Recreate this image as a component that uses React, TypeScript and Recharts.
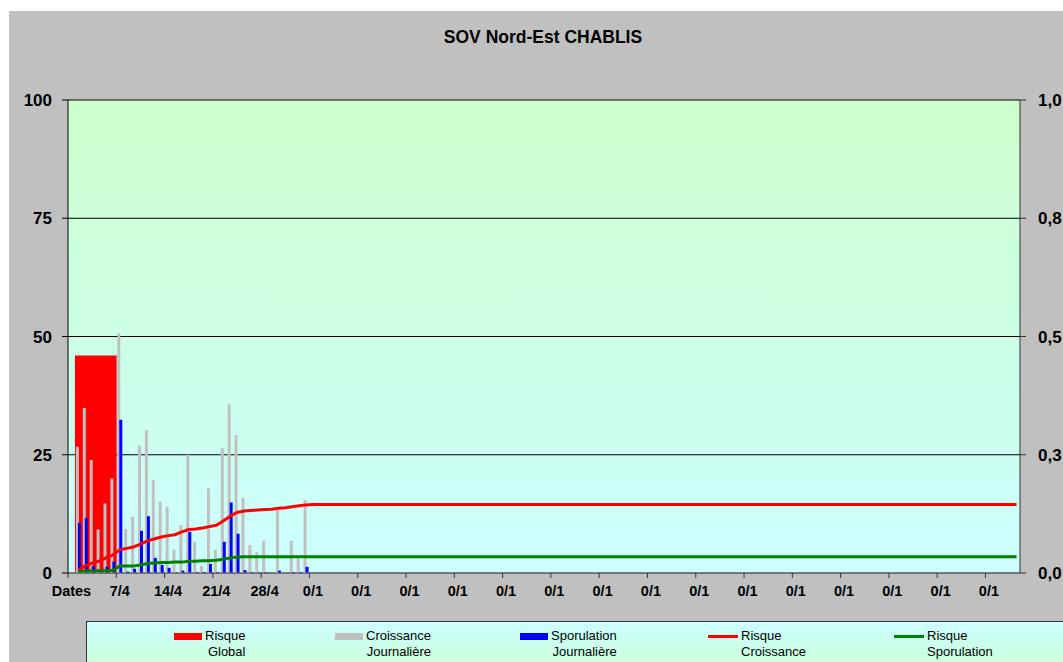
import React from "react";
import {
    Bar,
    CartesianGrid,
    ComposedChart,
    Line,
    ReferenceArea,
    XAxis,
    YAxis,
} from "recharts";

// one category per day, day 0 holds the "Dates" caption
const dayCount = 138;

const tickLabels = [
    "Dates", "7/4", "14/4", "21/4", "28/4",
    "0/1", "0/1", "0/1", "0/1", "0/1", "0/1", "0/1", "0/1",
    "0/1", "0/1", "0/1", "0/1", "0/1", "0/1", "0/1",
];

// daily values, from day 1 (1/4) on, left axis 0-100
const croissanceJour = [
    26.7, 34.9, 23.9, 9.2, 14.7, 20.0, 50.7, 9.3, 11.9, 26.9, 30.2, 19.7,
    15.1, 14.0, 4.9, 10.1, 25.0, 6.6, 1.5, 17.9, 4.9, 26.5, 35.7, 29.2,
    15.9, 5.9, 4.4, 6.8, 0, 13.3, 0, 6.8, 3.1, 15.4,
];
const sporulationJour = [
    10.6, 11.6, 1.5, 0.2, 1.3, 2.4, 32.4, 0.3, 0.9, 8.9, 12.0, 3.2,
    1.7, 1.1, 0.1, 0.5, 8.7, 0.2, 0.2, 1.9, 0.2, 6.6, 14.9, 8.3,
    0.6, 0.2, 0.2, 0.2, 0, 0.5, 0, 0.2, 0.2, 1.3,
];

// cumulative risks, right axis 0-1, from day 1; flat afterwards up to the last day
const risqueCroissance = [
    0.006, 0.015, 0.021, 0.025, 0.032, 0.038, 0.049, 0.052, 0.055, 0.061,
    0.068, 0.072, 0.076, 0.079, 0.081, 0.087, 0.092, 0.093, 0.095, 0.098,
    0.101, 0.110, 0.120, 0.128, 0.131, 0.132, 0.133, 0.134, 0.135, 0.137,
    0.138, 0.140, 0.142, 0.144, 0.145,
];
const risqueCroissanceFin = 0.145;
const risqueSporulation = [
    0.003, 0.004, 0.004, 0.005, 0.005, 0.006, 0.015, 0.015, 0.015, 0.017,
    0.020, 0.021, 0.022, 0.022, 0.023, 0.023, 0.025, 0.025, 0.026, 0.026,
    0.027, 0.029, 0.032, 0.034, 0.0345,
];
const risqueSporulationFin = 0.0345;

// global risk, one block over days 1 to 6
const risqueGlobal = 46;
const risqueGlobalDays = { from: 1, to: 6 };

const leftTicks = [0, 25, 50, 75, 100];
const rightTicks = [0, 0.25, 0.5, 0.75, 1];

const data = Array.from({ length: dayCount }, (_, day) => ({
    day,
    croissance: croissanceJour[day - 1] ?? null,
    sporulation: sporulationJour[day - 1] ?? null,
    rCroissance:
        day === dayCount - 1 ? risqueCroissanceFin : risqueCroissance[day - 1] ?? null,
    rSporulation:
        day === dayCount - 1 ? risqueSporulationFin : risqueSporulation[day - 1] ?? null,
}));

const FONT = '"Liberation Sans", Arial, sans-serif';
const CHART_W = 1054;
const CHART_H = 600;
const LEFT_W = 59;
const RIGHT_W = 43;
const band = (CHART_W - LEFT_W - RIGHT_W) / dayCount;

const DateTick = (props: any) => {
    const { x, y, payload } = props;
    const sep = x - band / 2;
    return (
        <g>
            <line x1={sep} x2={sep} y1={y} y2={y + 5} stroke="#333" />
            <text
                x={x}
                y={y + 23}
                textAnchor="middle"
                fontFamily={FONT}
                fontSize={14.5}
                fontWeight="bold"
                fill="#000"
            >
                {tickLabels[Math.round(payload.value / 7)]}
            </text>
        </g>
    );
};

const legendItems = [
    { left: 87, kind: "box", color: "#ff0000", l1: "Risque", l2: "Global", align: "right" },
    { left: 248, kind: "box", color: "#c0c0c0", l1: "Croissance", l2: "Journalière", align: "right" },
    { left: 433, kind: "box", color: "#0000ff", l1: "Sporulation", l2: "Journalière", align: "right" },
    { left: 621, kind: "line", color: "#ff0000", l1: "Risque", l2: "Croissance", align: "left" },
    { left: 807, kind: "line", color: "#008000", l1: "Risque", l2: "Sporulation", align: "left" },
];

export default function App() {
    return (
        <div
            style={{
                position: "fixed",
                left: 9,
                top: 11,
                width: CHART_W,
                height: 651,
                overflow: "hidden",
                background: "#c0c0c0",
                fontFamily: FONT,
            }}
        >
            <div
                style={{
                    position: "absolute",
                    left: 0,
                    top: 16,
                    width: 1068,
                    textAlign: "center",
                    lineHeight: "20px",
                    fontSize: 17.5,
                    fontWeight: "bold",
                    color: "#000",
                }}
            >
                SOV Nord-Est CHABLIS
            </div>
            <ComposedChart
                width={CHART_W}
                height={CHART_H}
                data={data}
                margin={{ top: 89, right: 0, bottom: 8, left: 0 }}
                barGap={-1}
                style={{ position: "absolute", left: 0, top: 0 }}
            >
                <defs>
                    <linearGradient id="plotBg" x1="0" y1="0" x2="0" y2="1">
                        <stop offset="0%" stopColor="#ccffcc" />
                        <stop offset="100%" stopColor="#ccffff" />
                    </linearGradient>
                </defs>
                <CartesianGrid
                    xAxisId="days"
                    yAxisId="left"
                    vertical={false}
                    stroke="#000"
                    fill="url(#plotBg)"
                    fillOpacity={1}
                />
                <XAxis
                    xAxisId="days"
                    dataKey="day"
                    interval={6}
                    height={30}
                    tickLine={false}
                    tickSize={0}
                    tickMargin={0}
                    axisLine={{ stroke: "#808080" }}
                    tick={<DateTick />}
                />
                <XAxis
                    xAxisId="span"
                    type="number"
                    domain={[0, dayCount]}
                    hide
                />
                <YAxis
                    yAxisId="left"
                    width={LEFT_W}
                    domain={[0, 100]}
                    ticks={leftTicks}
                    interval={0}
                    tickSize={6}
                    tickMargin={10}
                    axisLine={{ stroke: "#000" }}
                    tickLine={{ stroke: "#000" }}
                    tick={{ fontFamily: FONT, fontSize: 17, fontWeight: "bold", fill: "#000" }}
                />
                <YAxis
                    yAxisId="right"
                    orientation="right"
                    width={RIGHT_W}
                    domain={[0, 1]}
                    ticks={rightTicks}
                    interval={0}
                    tickSize={6}
                    tickMargin={12}
                    axisLine={{ stroke: "#333" }}
                    tickLine={{ stroke: "#333" }}
                    tickFormatter={(v) => v.toFixed(1).replace(".", ",")}
                    tick={{ fontFamily: FONT, fontSize: 17, fontWeight: "bold", fill: "#000", textAnchor: "start" }}
                />
                <ReferenceArea
                    xAxisId="span"
                    yAxisId="left"
                    x1={risqueGlobalDays.from}
                    x2={risqueGlobalDays.to + 1}
                    y1={0}
                    y2={risqueGlobal}
                    fill="#ff0000"
                    fillOpacity={1}
                    stroke="none"
                    ifOverflow="visible"
                />
                <Bar
                    xAxisId="days"
                    yAxisId="left"
                    dataKey="croissance"
                    fill="#c0c0c0"
                    barSize={3}
                    isAnimationActive={false}
                />
                <Bar
                    xAxisId="days"
                    yAxisId="left"
                    dataKey="sporulation"
                    fill="#0000ff"
                    barSize={3}
                    isAnimationActive={false}
                />
                <Line
                    xAxisId="days"
                    yAxisId="right"
                    dataKey="rCroissance"
                    stroke="#ff0000"
                    strokeWidth={3}
                    dot={false}
                    connectNulls
                    type="linear"
                    isAnimationActive={false}
                />
                <Line
                    xAxisId="days"
                    yAxisId="right"
                    dataKey="rSporulation"
                    stroke="#008000"
                    strokeWidth={3}
                    dot={false}
                    connectNulls
                    type="linear"
                    isAnimationActive={false}
                />
            </ComposedChart>
            <div
                style={{
                    position: "absolute",
                    left: 77,
                    top: 610,
                    width: 1000,
                    height: 60,
                    border: "1px solid #333",
                    background: "linear-gradient(#ccffff, #ccffcc)",
                }}
            >
                {legendItems.map((it) => (
                    <div key={it.l1 + it.l2} style={{ position: "absolute", left: it.left, top: 0 }}>
                        {it.kind === "box" ? (
                            <div
                                style={{
                                    position: "absolute",
                                    left: 0,
                                    top: 11,
                                    width: 28,
                                    height: 7,
                                    background: it.color,
                                }}
                            />
                        ) : (
                            <div
                                style={{
                                    position: "absolute",
                                    left: 0,
                                    top: 13,
                                    width: 30,
                                    height: 3,
                                    background: it.color,
                                }}
                            />
                        )}
                        <div
                            style={{
                                position: "absolute",
                                left: it.kind === "box" ? 31 : 33,
                                top: 6,
                                fontSize: 13,
                                lineHeight: "15.7px",
                                color: "#000",
                                whiteSpace: "nowrap",
                                textAlign: it.align as any,
                            }}
                        >
                            <div>{it.l1}</div>
                            <div>{it.l2}</div>
                        </div>
                    </div>
                ))}
            </div>
        </div>
    );
}
